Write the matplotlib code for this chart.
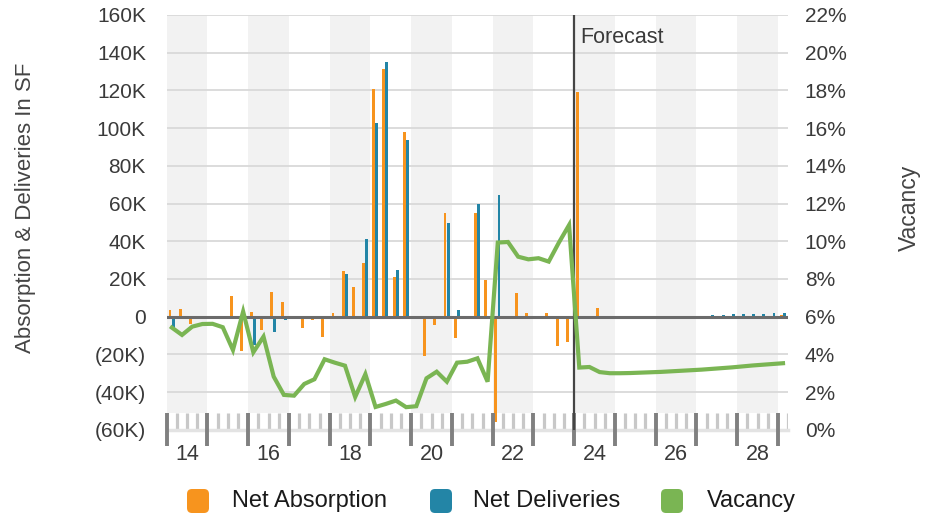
import numpy as np
import matplotlib
matplotlib.use("Agg")
import matplotlib.pyplot as plt
from matplotlib.patches import FancyBboxPatch
from matplotlib.transforms import IdentityTransform

plt.rcParams['font.family'] = ['Liberation Sans', 'DejaVu Sans']

# quarterly data, 2014 Q1 .. 2029 Q1
quarters = [f"{y} Q{q}" for y in range(2014, 2030) for q in range(1, 5)][:61]

absorption = [3.5, 4.0, -4.0, -1.5, 0.5, 0.5, 11.0, -18.0,
              2.5, -7.0, 13.0, 8.0, -0.3, -6.0, -2.0, -11.0,
              2.0, 24.0, 15.7, 28.5, 120.6, 131.2, 21.2, 98.0,
              -1.0, -21.0, -4.6, 55.2, -11.3, -0.8, 55.2, 19.5,
              -55.7, -0.6, 12.4, 1.8, 0.3, 2.2, -15.5, -13.6,
              119.4, -1.0, 4.6, -0.4, -0.8, -0.6, 0.0, 0.0,
              0.0, 0.0, 0.0, 0.1, 0.1, 0.2, 0.2, 0.2,
              0.4, 0.4, 0.5, 0.6, 0.9]  # thousands SF

deliveries = [-6.0, 0, 0, 0, 0, 0, 0, 0,
              -15.0, 0, -8.0, -2.0, 0, 0, 0, 0,
              0, 22.5, 0, 41.0, 102.7, 134.9, 24.9, 93.7,
              0, 0, 0, 49.5, 3.4, 0, 60.0, 0,
              64.5, 0, 0, 0, 0, 0, 0, 0,
              0, 0, -0.3, -0.3, -0.3, -0.2, 0, 0,
              0, 0, 0, 0.3, 0.5, 0.7, 1.0, 1.2,
              1.2, 1.2, 1.6, 1.8, 2.1]  # thousands SF

vacancy = [5.42, 5.03, 5.47, 5.61, 5.62, 5.44, 4.23, 6.27,
           4.11, 4.94, 2.82, 1.85, 1.81, 2.43, 2.68, 3.74,
           3.56, 3.40, 1.74, 2.95, 1.21, 1.37, 1.55, 1.20,
           1.25, 2.73, 3.08, 2.55, 3.56, 3.61, 3.79, 2.55,
           9.93, 9.96, 9.18, 9.04, 9.10, 8.92, 9.93, 10.86,
           3.30, 3.33, 3.06, 3.00, 3.00, 3.01, 3.03, 3.05,
           3.07, 3.10, 3.13, 3.16, 3.19, 3.23, 3.27, 3.31,
           3.36, 3.41, 3.45, 3.49, 3.53]  # percent

left_ticks = [-60, -40, -20, 0, 20, 40, 60, 80, 100, 120, 140, 160]
left_labels = ['(60K)', '(40K)', '(20K)', '0', '20K', '40K', '60K',
               '80K', '100K', '120K', '140K', '160K']
right_ticks = [0, 2, 4, 6, 8, 10, 12, 14, 16, 18, 20, 22]
year_labels = ['14', '16', '18', '20', '22', '24', '26', '28']
forecast_start = 2024

c_abs = '#f7941e'
c_del = '#2385a6'
c_vac = '#7ab553'
txt = '#3a3a3a'

x = 2014 + (np.arange(len(quarters)) + 0.5) / 4
bw = 0.072

fig = plt.figure(figsize=(9.41, 5.18), dpi=100)
ax = fig.add_axes([0.1772, 0.1703, 0.6603, 0.8008])
ax.set_xlim(2014, 2029.25)
ax.set_ylim(-60, 160)

# alternating year bands
for yr in range(2014, 2030, 2):
    ax.fill_between([yr, yr + 1], -51, 160, color='#f2f2f2', lw=0, zorder=0)

for v in left_ticks[1:]:
    ax.axhline(v, color='#d9d9d9', lw=1.3, zorder=1)
ax.axhline(0, color='#6b6b6b', lw=2.2, zorder=3)

ax.bar(x - 0.045, absorption, width=bw, color=c_abs, zorder=2)
ax.bar(x + 0.03, deliveries, width=bw, color=c_del, zorder=2)

# tick strip at the bottom
qb = 2014 + np.arange(1, 62) / 4
ax.vlines([b for b in qb if b % 1 != 0], -51, -59.5, color='#c8c8c8', lw=2.3, zorder=3)
ax.axhline(-60, color='#e3e3e3', lw=2.5, zorder=3, clip_on=False)
ax.vlines(np.arange(2014, 2030), -51, -68.5, color='#808080', lw=2.8,
          zorder=4, clip_on=False)

ax.axvline(forecast_start, color='#454545', lw=1.6, zorder=5)
ax.text(forecast_start + 0.16, 148, 'Forecast', fontsize=15.5, color=txt,
        va='center', ha='left')

for s in ax.spines.values():
    s.set_visible(False)
ax.set_xticks([int(l) + 2000.5 for l in year_labels])
ax.set_xticklabels(year_labels, fontsize=15.5, color=txt)
ax.tick_params(axis='x', length=0, pad=10)
ax.set_yticks(left_ticks)
ax.set_yticklabels(left_labels, fontsize=15, color=txt)
ax.tick_params(axis='y', length=0, pad=15)

ax2 = ax.twinx()
ax2.set_ylim(0, 22)
ax2.plot(x, vacancy, color=c_vac, lw=3, zorder=6, solid_joinstyle='miter')
ax2.set_yticks(right_ticks)
ax2.set_yticklabels([f'{t}%' for t in right_ticks], fontsize=15, color=txt)
ax2.tick_params(axis='y', length=0, pad=12)
for s in ax2.spines.values():
    s.set_visible(False)

fig.text(26 / 941, 1 - 208 / 518, 'Absorption & Deliveries In SF', rotation=90,
         fontsize=16, color='#444444', ha='center', va='center')
fig.text(909 / 941, 1 - 208 / 518, 'Vacancy', rotation=90,
         fontsize=16.5, color='#444444', ha='center', va='center')

# legend
legend_items = [('Net Absorption', c_abs, 187, 231.5),
                ('Net Deliveries', c_del, 430, 473.3),
                ('Vacancy', c_vac, 661, 706.7)]
for name, col, mx, tx in legend_items:
    fig.patches.append(FancyBboxPatch((mx, 518 - 513), 22, 24,
                                      boxstyle='round,pad=0,rounding_size=5',
                                      fc=col, ec='none', transform=IdentityTransform()))
    fig.text(tx / 941, 1 - 501 / 518, name, fontsize=17, color='#1a1a1a',
             ha='left', va='center')

fig.savefig('out.png', dpi=100)
